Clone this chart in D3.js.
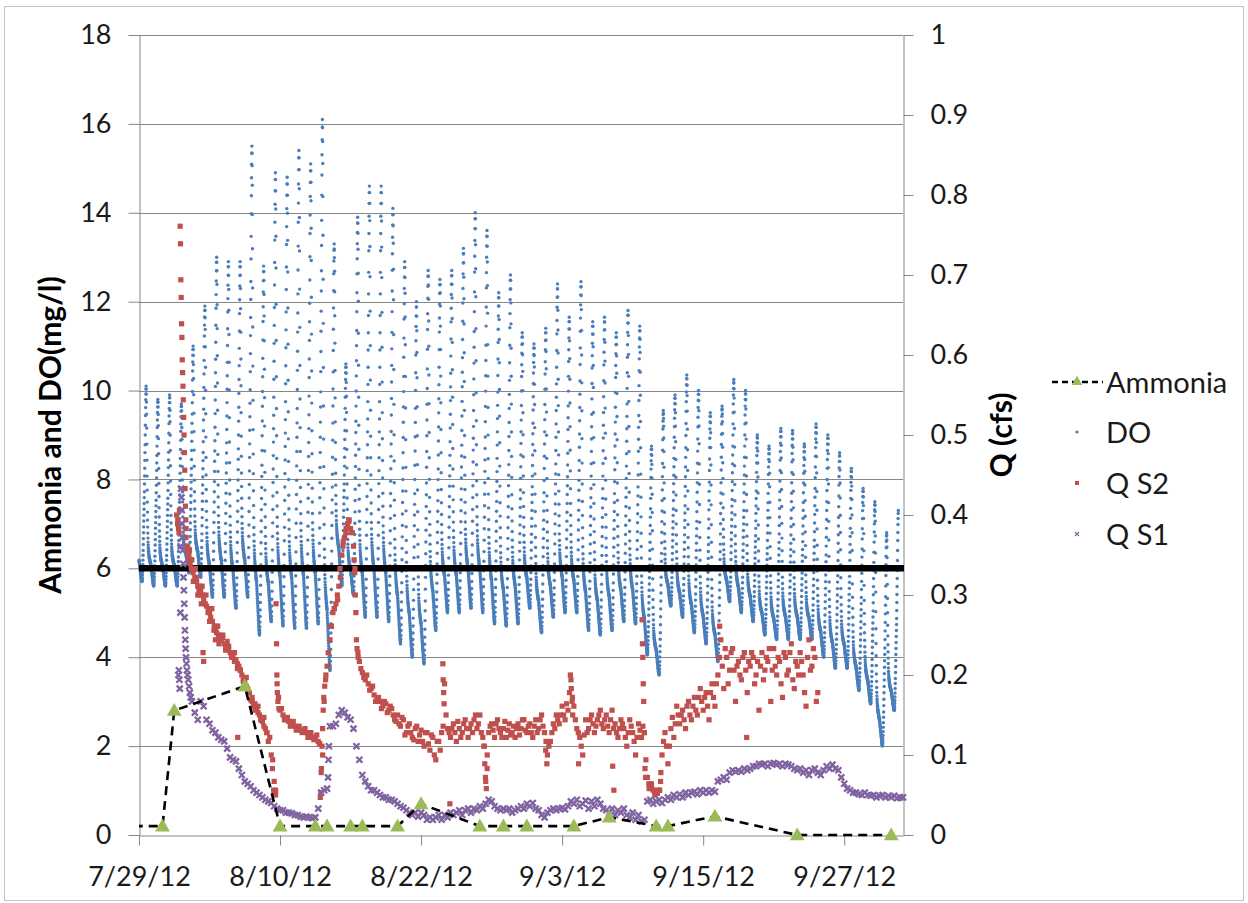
<!DOCTYPE html>
<html>
<head>
<meta charset="utf-8">
<script src="https://cdn.jsdelivr.net/npm/d3@7"></script>
<style>
  html, body { margin: 0; padding: 0; background: #fff; }
  svg { display: block; font-family: Lato, "Open Sans", sans-serif; }
</style>
</head>
<body>
<svg id="chart" width="1248" height="903"></svg>
<script>
// ---------- data ----------
const seriesNames = ["Ammonia", "DO", "Q S2", "Q S1"];
const seriesStart = "2012-07-29";           // day 0 of the continuous records
const axisEnd = "2012-10-02";

const xTickDates = ["2012-07-29", "2012-08-10", "2012-08-22", "2012-09-03", "2012-09-15", "2012-09-27"];
const leftTicks = [0, 2, 4, 6, 8, 10, 12, 14, 16, 18];
const rightTicks = [0, 0.1, 0.2, 0.3, 0.4, 0.5, 0.6, 0.7, 0.8, 0.9, 1];
const rightTickLabels = ["0", "0.1", "0.2", "0.3", "0.4", "0.5", "0.6", "0.7", "0.8", "0.9", "1"];

// Ammonia grab samples (mg/l)
const ammoniaDates = ["2012-07-26", "2012-07-31", "2012-08-01", "2012-08-07", "2012-08-10", "2012-08-13",
  "2012-08-14", "2012-08-16", "2012-08-17", "2012-08-20", "2012-08-22", "2012-08-27", "2012-08-29",
  "2012-08-31", "2012-09-04", "2012-09-07", "2012-09-11", "2012-09-12", "2012-09-16", "2012-09-23", "2012-10-01"];
const ammoniaValues = [0.2, 0.2, 2.8, 3.35, 0.2, 0.2, 0.2, 0.2, 0.2, 0.2, 0.7, 0.2, 0.2,
  0.2, 0.2, 0.4, 0.2, 0.2, 0.42, 0, 0];

// Dissolved oxygen: daily minimum / maximum (mg/l), one entry per day from 7/29
const doDailyMax = [10.1, 9.8, 9.9, 9.7, 11.0, 11.9, 13.0, 12.9, 12.9, 15.5,
  12.8, 14.9, 14.8, 15.4, 15.1, 16.1, 13.3, 10.6, 13.9, 14.6,
  14.6, 14.1, 12.9, 12.0, 12.7, 12.5, 12.7, 13.2, 14.0, 13.6,
  12.2, 12.6, 11.3, 11.05, 11.4, 12.4, 11.65, 12.45, 11.55, 11.65,
  11.3, 11.8, 11.45, 8.75, 9.55, 9.9, 10.35, 10.0, 9.5, 9.65,
  10.25, 10.0, 9.0, 8.75, 9.15, 9.1, 8.8, 9.25, 9.0, 8.6,
  8.25, 7.8, 7.5, 6.8, 7.3];
const doDailyMin = [5.7, 5.6, 5.6, 5.6, 5.9, 5.8, 5.35, 5.35, 5.1, 5.35,
  4.5, 4.8, 4.7, 4.65, 4.65, 4.75, 3.7, 5.6, 5.4, 4.9,
  4.9, 4.8, 4.3, 4.0, 3.85, 4.6, 5.0, 5.0, 5.1, 5.0,
  4.75, 4.7, 4.75, 5.1, 4.55, 4.9, 5.0, 5.0, 4.6, 4.5,
  4.6, 4.8, 4.75, 4.05, 3.6, 5.15, 4.9, 4.55, 4.3, 3.9,
  5.25, 5.0, 4.8, 4.5, 4.4, 4.4, 4.4, 4.4, 4.0, 3.75,
  3.75, 3.25, 2.95, 2.0, 2.8];
// Diurnal DO shape at 15-minute logging interval (0 = dawn minimum, 1 = afternoon peak)
const doProfile = [
  .110, .105, .100, .095, .090, .085, .080, .075, .070, .065, .060, .055,
  .050, .045, .040, .035, .030, .025, .020, .016, .012, .008, .005, .002,
  .000, .005, .012, .022, .035, .050, .068, .088, .110, .135, .160, .190,
  .220, .250, .280, .310, .340, .370, .400, .430,
  .460, .500, .540, .580, .620, .660, .700, .750, .800, .850, .890, .930, .960, .985, 1.000,
  .985, .960, .920, .860, .790, .710, .630, .550, .480, .420,
  .370, .330, .295, .265, .240, .220, .205, .192, .182, .174,
  .167, .161, .156, .151, .147, .143, .139, .136, .133, .130,
  .127, .124, .121, .118, .116, .114, .112];
const doLastRecord = "2012-10-01 14:30";
const doStandard = 6;

// Flow at station S2 (cfs): 6-hourly record from day 4.0, the readings 3 h after each,
// and dense readings during rapid changes
const qs2Start = 4.0, qs2Step = 0.25;
const qs2Values = [
  .383, .350, .333, .322, .311, .306, .294, .286,
  .278, .267, .256, .250, .244, .239, .242, .228,
  .222, .219, .211, .200, .192, .183, .169, .161,
  .158, .150, .142, .133, .117, .100, .067, .189,
  .156, .150, .144, .142, .139, .136, .133, .131,
  .131, .128, .125, .122, .122, .117, .078, .167,
  .211, .244, .278, .289, .311, .350, .372, .389,
  .383, .361, .244, .217, .203, .194, .189, .183,
  .175, .169, .167, .161, .164, .156, .158, .144,
  .150, .136, .144, .128, .139, .122, .133, .117,
  .131, .111, .128, .106, .122, .094, .117, .128,
  .189, .133, .122, .139, .117, .133, .128, .144,
  .122, .139, .144, .133, .150, .122, .067, .128,
  .139, .122, .144, .128, .133, .122, .139, .128,
  .122, .139, .133, .144, .128, .139, .122, .144,
  .133, .150, .128, .100, .117, .139, .150, .139,
  .161, .144, .156, .194, .161, .133, .122, .100,
  .144, .133, .150, .128, .144, .156, .133, .150,
  .128, .156, .139, .122, .144, .133, .111, .144,
  .128, .100, .139, .122, .128, .072, .061, .056,
  .053, .056, .100, .128, .089, .133, .122, .161,
  .139, .156, .133, .167, .144, .172, .150, .183,
  .156, .178, .144, .189, .161, .200, .244, .183,
  .222, .206, .233, .167, .217, .194, .228, .178,
  .211, .222, .200, .156, .228, .206, .217, .167,
  .233, .200, .217, .172, .222, .206, .239, .183,
  .211, .228, .200, .161, .244, .211, .222, .178];
const qs2MidStart = 4.125;
const qs2MidValues = [
  .361, .344, .317, .322, .300, .311, .289, .278,
  .283, .256, .261, .244, .250, .231, .236, .222,
  .228, .208, .206, .192, .197, .178, .172, .156,
  .161, .144, .147, .128, .122, .094, .056, .172,
  .158, .144, .147, .136, .142, .131, .136, .128,
  .133, .122, .128, .119, .125, .114, .100, .194,
  .228, .261, .283, .300, .322, .367, .383, .394,
  .378, .333, .228, .208, .197, .200, .181, .186,
  .167, .172, .158, .167, .153, .161, .150, .142,
  .139, .147, .125, .136, .128, .119, .136, .125,
  .117, .128, .114, .125, .100, .117, .106, .136,
  .150, .128, .133, .128, .142, .122, .139, .133,
  .133, .128, .150, .139, .128, .111, .100, .136,
  .131, .139, .133, .122, .142, .131, .125, .136,
  .133, .125, .144, .131, .136, .128, .136, .128,
  .144, .136, .117, .111, .128, .133, .144, .150,
  .150, .164, .178, .172, .144, .128, .111, .125,
  .128, .144, .139, .136, .150, .139, .144, .136,
  .144, .133, .128, .133, .139, .122, .128, .136,
  .117, .122, .131, .136, .094, .064, .058, .053,
  .056, .067, .117, .111, .111, .147, .139, .150,
  .150, .144, .161, .150, .161, .156, .172, .167,
  .172, .161, .178, .172, .189, .222, .211, .233,
  .189, .228, .206, .211, .200, .222, .206, .217,
  .228, .189, .217, .211, .194, .222, .233, .206,
  .211, .222, .189, .228, .200, .228, .194, .217,
  .200, .217, .178, .222, .206, .233, .167];
const qs2Events = [
  [3.20, .400], [3.28, .389], [3.30, .394], [3.36, .383], [3.40, .378], [3.44, .406], [3.50, .761],
  [3.53, .739], [3.56, .694], [3.59, .672], [3.62, .639], [3.65, .622], [3.68, .594], [3.71, .578],
  [3.74, .561], [3.77, .544], [3.80, .522], [3.83, .500], [3.86, .478], [3.89, .456], [3.92, .433],
  [3.95, .411], [3.98, .394], [4.00, .372], [4.05, .356], [4.10, .361], [4.20, .344], [4.30, .356],
  [4.35, .339], [4.45, .333], [4.50, .344], [4.60, .328], [4.70, .317], [4.80, .333], [4.90, .317],
  [5.00, .300], [5.10, .306], [5.20, .311], [5.30, .289], [5.40, .300], [5.45, .228], [5.50, .217],
  [5.60, .289], [5.70, .300], [5.90, .283], [6.00, .267], [6.10, .272], [6.20, .283], [6.40, .261],
  [6.50, .244], [6.60, .253], [6.70, .261], [6.80, .239], [6.90, .247],
  [7.125, .247], [7.375, .233], [7.625, .233], [7.875, .225], [8.125, .217], [8.375, .214],
  [8.625, .206], [8.875, .194], [9.125, .186], [9.375, .178], [9.625, .167], [9.875, .164],
  [10.125, .153], [10.375, .144], [10.625, .136], [10.875, .128], [8.40, .122],
  [11.35, .083], [11.45, .056], [11.55, .053], [11.62, .050], [11.66, .289], [11.70, .239],
  [11.73, .200], [11.77, .178], [11.82, .167], [11.90, .158],
  [15.35, .114], [15.42, .047], [15.47, .053], [15.52, .083], [15.57, .111], [15.62, .133],
  [15.67, .156], [15.72, .172], [15.80, .186], [15.90, .200], [16.10, .228], [16.35, .261],
  [16.60, .283], [16.90, .294], [17.10, .333], [17.35, .361], [17.60, .378], [17.85, .392],
  [18.10, .378], [18.30, .344], [18.35, .328], [18.40, .300], [18.45, .278], [18.55, .233], [18.65, .222],
  [25.85, .214], [25.88, .194], [25.92, .178], [25.96, .164], [26.45, .039],
  [29.35, .111], [29.42, .089], [29.47, .072], [29.55, .058], [29.62, .083],
  [34.60, .106], [34.70, .089],
  [36.70, .200], [36.78, .183], [36.85, .167], [36.90, .150], [37.40, .089],
  [40.30, .086], [40.40, .056],
  [42.80, .269], [42.83, .239], [42.86, .222], [42.90, .189], [42.94, .167], [42.98, .128],
  [43.05, .083], [43.10, .072], [43.40, .058], [43.60, .064], [43.90, .050], [44.10, .052],
  [44.30, .056], [44.40, .078],
  [49.40, .261], [51.70, .122]];

// Flow at station S1 (cfs): 6-hourly record from day 4.5, plus dense readings during the first storm
const qs1Start = 4.5, qs1Step = 0.25;
const qs1Values = [
  .167, .153, .144, .167, .161, .144, .139, .131,
  .128, .122, .119, .117, .108, .097, .094, .092,
  .083, .075, .067, .064, .061, .056, .053, .050,
  .047, .044, .042, .040, .036, .033, .031, .031,
  .028, .028, .027, .025, .025, .023, .022, .023,
  .022, .021, .022, .033, .053, .056, .058, .136,
  .136, .139, .150, .156, .153, .147, .144, .133,
  .111, .094, .075, .067, .061, .056, .056, .053,
  .050, .047, .047, .044, .044, .042, .039, .036,
  .034, .031, .028, .025, .028, .023, .028, .025,
  .019, .022, .019, .022, .025, .019, .025, .022,
  .028, .025, .028, .031, .025, .031, .033, .028,
  .033, .031, .036, .033, .039, .044, .042, .036,
  .033, .031, .033, .031, .033, .028, .031, .033,
  .036, .033, .039, .036, .040, .033, .031, .025,
  .022, .028, .031, .033, .031, .033, .034, .032,
  .036, .042, .039, .044, .036, .039, .043, .033,
  .042, .036, .044, .039, .033, .031, .028, .033,
  .025, .031, .028, .033, .025, .022, .028, .019,
  .025, .017, .019, .042, .044, .039, .042, .044,
  .040, .044, .047, .044, .050, .047, .051, .047,
  .053, .050, .053, .054, .051, .056, .053, .056,
  .053, .056, .054, .067, .069, .072, .069, .078,
  .081, .079, .081, .079, .083, .081, .083, .086,
  .086, .089, .088, .089, .086, .089, .090, .088,
  .089, .086, .089, .088, .086, .083, .081, .083,
  .078, .081, .075, .081, .083, .078, .075, .081,
  .086, .083, .088, .083, .081, .072, .064, .058,
  .056, .053, .053, .051, .050, .053, .050, .049,
  .050, .047, .049, .050, .047, .049, .047, .049,
  .046, .047, .047];
const qs1Events = [
  [3.35, .200], [3.39, .206], [3.43, .194], [3.47, .183], [3.52, .278], [3.55, .361], [3.58, .433],
  [3.61, .422], [3.64, .406], [3.67, .389], [3.70, .372], [3.73, .356], [3.76, .339], [3.79, .322],
  [3.82, .306], [3.85, .289], [3.88, .272], [3.91, .256], [3.94, .244], [3.97, .233], [4.00, .222],
  [4.04, .214], [4.08, .206], [4.13, .200], [4.19, .194], [4.26, .186], [4.33, .178], [4.40, .172],
  [16.08, .072], [16.12, .094], [16.16, .111]];

// ---------- helpers ----------
const parseDay = d3.timeParse("%Y-%m-%d");
const parseStamp = d3.timeParse("%Y-%m-%d %H:%M");
const day0 = parseDay(seriesStart);
const atDay = t => d3.timeMinute.offset(day0, Math.round(t * 1440));

// DO records built from the daily extremes and the diurnal shape
const slotsPerDay = doProfile.length;
const minSlot = doProfile.indexOf(d3.min(doProfile));
const peakSlot = doProfile.indexOf(d3.max(doProfile));
const doEnd = parseStamp(doLastRecord);
const doPoints = [];
doDailyMax.forEach((mx, d) => {
  const mn = doDailyMin[d];
  const prevMax = doDailyMax[Math.max(d - 1, 0)];
  const nextMin = doDailyMin[Math.min(d + 1, doDailyMin.length - 1)];
  doProfile.forEach((p, i) => {
    let v;
    if (i < minSlot) v = mn + p * (prevMax - mn);
    else if (i <= peakSlot) v = mn + p * (mx - mn);
    else v = nextMin + p * (mx - nextMin);
    const date = atDay(d + i / slotsPerDay);
    if (date <= doEnd) doPoints.push({ date, value: v });
  });
});

const qs2Points = qs2Values.map((v, i) => ({ date: atDay(qs2Start + i * qs2Step), value: v }))
  .concat(qs2MidValues.map((v, i) => ({ date: atDay(qs2MidStart + i * qs2Step), value: v })))
  .concat(qs2Events.map(([t, v]) => ({ date: atDay(t), value: v })));
const qs1Points = qs1Values.map((v, i) => ({ date: atDay(qs1Start + i * qs1Step), value: v }))
  .concat(qs1Events.map(([t, v]) => ({ date: atDay(t), value: v })));
const ammoniaPoints = ammoniaDates.map((d, i) => ({ date: parseDay(d), value: ammoniaValues[i] }));

// ---------- layout ----------
const svg = d3.select("#chart");
const W = 1248, H = 903;
const plot = { left: 139, right: 903, top: 35, bottom: 835 };
const colors = { ammonia: "#000000", tri: "#9bbb59", do: "#4a7ebb", qs2: "#c0504d", qs1: "#8064a2", grid: "#878787" };

const x = d3.scaleTime().domain([day0, parseDay(axisEnd)]).range([plot.left, plot.right]);
const yL = d3.scaleLinear().domain([0, 18]).range([plot.bottom, plot.top]);
const yR = d3.scaleLinear().domain([0, 1]).range([plot.bottom, plot.top]);

// outer frame
svg.append("rect").attr("x", 4.5).attr("y", 6.5).attr("width", W - 9).attr("height", H - 9)
  .attr("fill", "#fff").attr("stroke", "#c4c4c4").attr("stroke-width", 1);

svg.append("defs").append("clipPath").attr("id", "plotClip")
  .append("rect").attr("x", plot.left).attr("y", 0).attr("width", plot.right - plot.left + 2).attr("height", H);

// gridlines
svg.append("g").selectAll("line").data(leftTicks.filter(v => v > 0)).join("line")
  .attr("x1", plot.left).attr("x2", plot.right)
  .attr("y1", d => Math.round(yL(d)) + 0.5).attr("y2", d => Math.round(yL(d)) + 0.5)
  .attr("stroke", colors.grid).attr("stroke-width", 1);

// axes
const tickFont = "27px";
const gL = svg.append("g").attr("transform", `translate(${plot.left + 0.5},0)`)
  .call(d3.axisLeft(yL).tickValues(leftTicks).tickSize(11).tickSizeOuter(0).tickPadding(17));
const gR = svg.append("g").attr("transform", `translate(${plot.right + 0.5},0)`)
  .call(d3.axisRight(yR).tickValues(rightTicks).tickSize(10).tickSizeOuter(0).tickPadding(17)
    .tickFormat((d, i) => rightTickLabels[i]));
const gB = svg.append("g").attr("transform", `translate(0,${plot.bottom + 0.5})`)
  .call(d3.axisBottom(x).tickValues(xTickDates.map(parseDay)).tickSize(10).tickSizeOuter(0).tickPadding(21)
    .tickFormat(d3.timeFormat("%-m/%-d/%y")));
[gL, gR, gB].forEach(g => {
  g.select(".domain").attr("stroke", colors.grid);
  g.selectAll(".tick line").attr("stroke", colors.grid);
  g.selectAll(".tick text").attr("fill", "#1a1a1a").style("font-size", tickFont)
    .style("font-family", "Lato, 'Open Sans', sans-serif");
});

// DO
svg.append("g").selectAll("circle").data(doPoints).join("circle")
  .attr("cx", d => x(d.date)).attr("cy", d => yL(d.value)).attr("r", 1.7)
  .attr("fill", colors.do);

// DO standard
svg.append("line")
  .attr("x1", x(day0)).attr("x2", x(parseDay(axisEnd)) + 1)
  .attr("y1", yL(doStandard)).attr("y2", yL(doStandard))
  .attr("stroke", "#000").attr("stroke-width", 6.5);

// Q S2
svg.append("g").selectAll("rect").data(qs2Points).join("rect")
  .attr("x", d => x(d.date) - 2.6).attr("y", d => yR(d.value) - 2.6)
  .attr("width", 5.2).attr("height", 5.2).attr("fill", colors.qs2);

// Q S1
const xMark = "M-3,-3L3,3M-3,3L3,-3";
svg.append("g").selectAll("path").data(qs1Points).join("path")
  .attr("d", xMark).attr("transform", d => `translate(${x(d.date)},${yR(d.value)})`)
  .attr("stroke", colors.qs1).attr("stroke-width", 2.3).attr("fill", "none");

// Ammonia
const amm = svg.append("g").attr("clip-path", "url(#plotClip)");
amm.append("path").datum(ammoniaPoints)
  .attr("d", d3.line().x(d => x(d.date)).y(d => yL(d.value)))
  .attr("fill", "none").attr("stroke", colors.ammonia).attr("stroke-width", 2.6)
  .attr("stroke-dasharray", "9,6");
const tri = d3.symbol().type(d3.symbolTriangle).size(95);
amm.selectAll("path.m").data(ammoniaPoints).join("path").attr("class", "m")
  .attr("d", tri).attr("transform", d => `translate(${x(d.date)},${yL(d.value) + 1})`)
  .attr("fill", colors.tri);

// axis titles
svg.append("text").attr("transform", `translate(61,${(plot.top + plot.bottom) / 2}) rotate(-90)`)
  .attr("text-anchor", "middle").style("font-size", "30px").style("font-weight", "bold")
  .text("Ammonia and DO(mg/l)");
svg.append("text").attr("transform", `translate(1012,${(plot.top + plot.bottom) / 2}) rotate(-90)`)
  .attr("text-anchor", "middle").style("font-size", "30px").style("font-weight", "bold")
  .text("Q (cfs)");

// legend
const lg = svg.append("g");
const rowY = [382, 432, 483, 534];
const lx = 1077;
lg.append("line").attr("x1", lx - 25).attr("x2", lx + 26).attr("y1", rowY[0]).attr("y2", rowY[0])
  .attr("stroke", "#000").attr("stroke-width", 2.6).attr("stroke-dasharray", "6,4");
lg.append("path").attr("d", d3.symbol().type(d3.symbolTriangle).size(50))
  .attr("transform", `translate(${lx},${rowY[0]})`).attr("fill", colors.tri);
lg.append("circle").attr("cx", lx).attr("cy", rowY[1]).attr("r", 1.6).attr("fill", colors.do);
lg.append("rect").attr("x", lx - 2).attr("y", rowY[2] - 2).attr("width", 4).attr("height", 4).attr("fill", colors.qs2);
lg.append("path").attr("d", "M-2,-2L2,2M-2,2L2,-2").attr("transform", `translate(${lx},${rowY[3]})`)
  .attr("stroke", colors.qs1).attr("stroke-width", 1.1);
lg.selectAll("text").data(seriesNames).join("text")
  .attr("x", 1106).attr("y", (d, i) => rowY[i] + 10.5)
  .style("font-size", "29px").attr("fill", "#1a1a1a").text(d => d);
</script>
</body>
</html>
